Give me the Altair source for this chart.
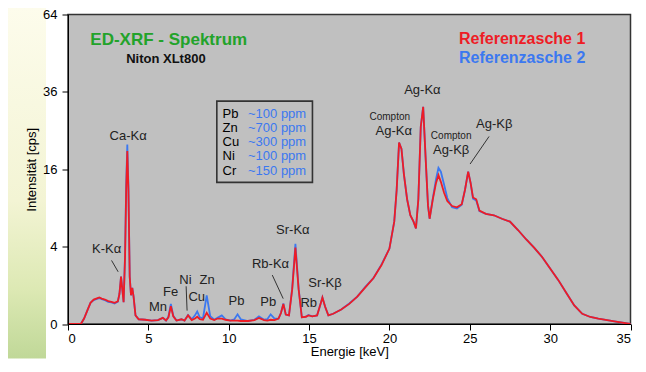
import altair as alt
import pandas as pd

# ---------------- data ----------------
energy = [0, 0.8, 1.0, 1.2, 1.4, 1.6, 1.8, 1.95, 2.1, 2.3, 2.5, 2.7, 2.9, 3.1, 3.2, 3.3,
          3.38, 3.46, 3.55, 3.62, 3.69, 3.76, 3.84, 3.92, 4.0, 4.08, 4.2, 4.4, 4.8, 5.2,
          5.6, 5.9, 6.1, 6.25, 6.4, 6.55, 6.75, 7.06, 7.25, 7.47, 7.7, 7.9, 8.04, 8.2,
          8.4, 8.63, 8.85, 9.1, 9.3, 9.57, 9.8, 10.1, 10.35, 10.55, 10.75, 11.2, 11.6,
          11.88, 12.2, 12.4, 12.61, 12.85, 13.1, 13.25, 13.4, 13.55, 13.75, 13.95, 14.15,
          14.35, 14.55, 14.8, 14.96, 15.2, 15.5, 15.7, 15.83, 16.0, 16.2, 16.5, 17.0, 17.5,
          18.0, 18.5, 19.0, 19.5, 20.0, 20.3, 20.45, 20.6, 20.75, 20.9, 21.1, 21.3, 21.5,
          21.65, 21.8, 21.95, 22.1, 22.25, 22.4, 22.5, 22.7, 22.9, 23.05, 23.2, 23.4, 23.6,
          23.9, 24.2, 24.5, 24.7, 24.9, 25.05, 25.2, 25.4, 25.6, 26.0, 26.5, 27.0, 27.5,
          28.0, 28.5, 29.0, 29.5, 30.0, 30.5, 31.0, 31.5, 32.0, 32.5, 33.0, 34.0, 35.0]

ref1 = [0, 0, 0.02, 0.12, 0.3, 0.4, 0.44, 0.47, 0.43, 0.4, 0.35, 0.33, 0.3, 0.34, 0.6, 1.5,
        0.8, 0.32, 3.0, 12, 20, 12, 1.5, 0.55, 0.87, 0.5, 0.05, 0.015, 0.012, 0.008,
        0.01, 0.025, 0.008, 0.03, 0.21, 0.04, 0.008, 0.015, 0.008, 0.05, 0.01, 0.02, 0.035, 0.015,
        0.012, 0.085, 0.02, 0.01, 0.02, 0.02, 0.012, 0.008, 0.008, 0.008, 0.006, 0.006, 0.01,
        0.025, 0.01, 0.008, 0.012, 0.01, 0.02, 0.08, 0.27, 0.06, 0.05, 0.8, 3.9,
        0.8, 0.03, 0.035, 0.05, 0.04, 0.05, 0.25, 0.47, 0.2, 0.05, 0.07, 0.14, 0.27,
        0.5, 0.9, 1.4, 2.3, 3.8, 7, 12, 22, 20.5, 15, 10.4, 7.9, 7.0,
        6.1, 10.4, 26, 31.5, 18.6, 9.4, 7.4, 10.4, 13.3, 14.8, 13.5, 11.5, 10.1,
        9.3, 9.1, 9.6, 12, 15.5, 13.3, 10.7, 10.4, 8.6, 8.1, 7.9, 7.4, 7.0,
        5.9, 4.8, 3.9, 3.0, 2.05, 1.3, 0.65, 0.23, 0.07, 0.033, 0.02, 0.005, 0]

ref2 = [0, 0, 0.02, 0.12, 0.3, 0.38, 0.42, 0.45, 0.41, 0.38, 0.33, 0.31, 0.28, 0.33, 0.6, 1.5,
        0.8, 0.32, 3.2, 13, 21.5, 12.5, 1.5, 0.55, 0.87, 0.5, 0.05, 0.015, 0.012, 0.008,
        0.01, 0.025, 0.008, 0.035, 0.27, 0.045, 0.008, 0.015, 0.008, 0.055, 0.015, 0.05, 0.105, 0.03,
        0.022, 0.55, 0.04, 0.012, 0.025, 0.05, 0.015, 0.008, 0.015, 0.0625, 0.015, 0.006, 0.012,
        0.04, 0.012, 0.015, 0.0625, 0.02, 0.02, 0.08, 0.28, 0.06, 0.05, 0.85, 4.3,
        0.85, 0.03, 0.035, 0.055, 0.04, 0.05, 0.25, 0.47, 0.2, 0.05, 0.07, 0.14, 0.28,
        0.5, 0.92, 1.4, 2.35, 3.8, 7, 12, 22, 20.5, 15, 10.4, 7.9, 7.0,
        6.1, 10.4, 26, 31.5, 18.6, 9.4, 7.4, 10.6, 14.0, 16.3, 15.5, 13.0, 10.6,
        9.1, 8.9, 9.5, 12, 15.5, 13.3, 10.5, 10.2, 8.5, 8.1, 7.9, 7.4, 7.0,
        5.9, 4.8, 3.9, 3.0, 2.05, 1.3, 0.65, 0.23, 0.07, 0.033, 0.02, 0.005, 0]

# peak labels: text, energy, intensity
peak_text = ["Ca-Kα", "K-Kα", "Mn", "Fe", "Ni", "Cu", "Zn", "Pb", "Pb", "Rb-Kα",
             "Sr-Kα", "Rb", "Sr-Kβ", "Ag-Kα", "Ag-Kα", "Ag-Kβ", "Ag-Kβ"]
peak_e = [3.74, 2.4, 5.6, 6.38, 7.31, 8.01, 8.65, 10.48, 12.46, 12.6,
          13.99, 14.98, 15.99, 20.27, 22.05, 23.84, 26.52]
peak_v = [23.5, 3.73, 0.19, 0.69, 1.3, 0.47, 1.27, 0.36, 0.31, 2.38,
          5.9, 0.29, 1.1, 25.0, 36.5, 20.3, 26.8]

compton_e = [20.02, 23.84]
compton_v = [28.6, 23.6]

# leader lines
lead_e1 = [2.71, 7.35, 12.71, 26.2]
lead_v1 = [2.7, 0.95, 1.6, 23.5]
lead_e2 = [3.12, 7.41, 13.39, 25.02]
lead_v2 = [1.82, 0.12, 0.43, 17.1]

# concentration box
box_elem = ["Pb", "Zn", "Cu", "Ni", "Cr"]
box_ppm = ["~100 ppm", "~700 ppm", "~300 ppm", "~100 ppm", "~150 ppm"]
box_row_v = [29.5, 25.7, 22.2, 18.8, 15.6]
box_e = [9.26, 15.21]
box_v = [33.2, 13.4]

FONT = "Liberation Sans"
RED = "#ee1c25"
BLUE = "#3b78f0"

df = pd.DataFrame({"E": energy, "r1": ref1, "r2": ref2})

xs = alt.Scale(domain=[0, 35], nice=False)
ys = alt.Scale(type="sqrt", domain=[0, 64], nice=False)

xaxis = alt.Axis(values=list(range(0, 36, 5)), title="Energie [keV]", grid=False,
                 tickSize=6, labelFontSize=13, titleFontSize=13, titleFontWeight="normal",
                 labelFont=FONT, titleFont=FONT, labelColor="black", titleColor="black",
                 domainColor="black", tickColor="black", labelPadding=2, titlePadding=0,
                 zindex=1)
yaxis = alt.Axis(values=[0, 1, 4, 9, 16, 25, 36, 49, 64], title="Intensität [cps]", grid=False,
                 labelExpr="(datum.value==0||datum.value==4||datum.value==16||datum.value==36||datum.value==64) ? datum.label : ''",
                 tickSize=6, labelFontSize=13, titleFontSize=13, titleFontWeight="normal",
                 labelFont=FONT, titleFont=FONT, labelColor="black", titleColor="black",
                 domainColor="black", tickColor="black", labelPadding=5, titlePadding=4,
                 zindex=1)

# decorative pale green strip on the left side of the slide
deco = alt.Chart(pd.DataFrame({"k": [0]})).mark_rect(
    color=alt.LinearGradient(
        gradient="linear", x1=0, y1=0, x2=0, y2=1,
        stops=[alt.GradientStop(offset=0, color="#fdfcec"),
               alt.GradientStop(offset=0.55, color="#f3f4d4"),
               alt.GradientStop(offset=0.8, color="#dde9b4"),
               alt.GradientStop(offset=1, color="#c0d898")])
).encode(x=alt.value(-60), x2=alt.value(-22), y=alt.value(-7), y2=alt.value(344))

base = alt.Chart(df)
blue_line = base.mark_line(color=BLUE, strokeWidth=1.8).encode(
    x=alt.X("E:Q", scale=xs, axis=xaxis),
    y=alt.Y("r2:Q", scale=ys, axis=yaxis))
red_line = base.mark_line(color=RED, strokeWidth=1.8).encode(
    x=alt.X("E:Q", scale=xs), y=alt.Y("r1:Q", scale=ys))

peaks = alt.Chart(pd.DataFrame({"t": peak_text, "E": peak_e, "v": peak_v})).mark_text(
    font=FONT, fontSize=13, color="#222222").encode(
    x=alt.X("E:Q", scale=xs), y=alt.Y("v:Q", scale=ys), text="t:N")
compton = alt.Chart(pd.DataFrame({"E": compton_e, "v": compton_v, "t": ["Compton", "Compton"]})).mark_text(
    font=FONT, fontSize=10, color="#222222").encode(
    x=alt.X("E:Q", scale=xs), y=alt.Y("v:Q", scale=ys), text="t:N")
leads = alt.Chart(pd.DataFrame({"e1": lead_e1, "v1": lead_v1, "e2": lead_e2, "v2": lead_v2})).mark_rule(
    color="#333333", strokeWidth=1).encode(
    x=alt.X("e1:Q", scale=xs), y=alt.Y("v1:Q", scale=ys), x2="e2:Q", y2="v2:Q")

box = alt.Chart(pd.DataFrame({"a": [box_e[0]], "b": [box_e[1]], "c": [box_v[0]], "d": [box_v[1]]})).mark_rect(
    fill=None, stroke="#333333", strokeWidth=1.6).encode(
    x=alt.X("a:Q", scale=xs), x2="b:Q", y=alt.Y("c:Q", scale=ys), y2="d:Q")
box_df = pd.DataFrame({"el": box_elem, "ppm": box_ppm, "v": box_row_v,
                       "e1": [9.62] * 5, "e2": [11.2] * 5})
box_el = alt.Chart(box_df).mark_text(font=FONT, fontSize=13, color="black", align="left").encode(
    x=alt.X("e1:Q", scale=xs), y=alt.Y("v:Q", scale=ys), text="el:N")
box_pp = alt.Chart(box_df).mark_text(font=FONT, fontSize=13, color=BLUE, align="left").encode(
    x=alt.X("e2:Q", scale=xs), y=alt.Y("v:Q", scale=ys), text="ppm:N")

titles_df = pd.DataFrame({
    "t": ["ED-XRF - Spektrum", "Niton XLt800", "Referenzasche 1", "Referenzasche 2"],
    "E": [1.39, 3.62, 32.19, 32.19], "v": [53.7, 46.9, 54.4, 47.3]})
t1 = alt.Chart(titles_df.iloc[[0]]).mark_text(font=FONT, fontSize=17, fontWeight="bold",
                                              color="#22a32a", align="left").encode(
    x=alt.X("E:Q", scale=xs), y=alt.Y("v:Q", scale=ys), text="t:N")
t2 = alt.Chart(titles_df.iloc[[1]]).mark_text(font=FONT, fontSize=13, fontWeight="bold",
                                              color="#111111", align="left").encode(
    x=alt.X("E:Q", scale=xs), y=alt.Y("v:Q", scale=ys), text="t:N")
t3 = alt.Chart(titles_df.iloc[[2]]).mark_text(font=FONT, fontSize=16, fontWeight="bold",
                                              color=RED, align="right").encode(
    x=alt.X("E:Q", scale=xs), y=alt.Y("v:Q", scale=ys), text="t:N")
t4 = alt.Chart(titles_df.iloc[[3]]).mark_text(font=FONT, fontSize=16, fontWeight="bold",
                                              color=BLUE, align="right").encode(
    x=alt.X("E:Q", scale=xs), y=alt.Y("v:Q", scale=ys), text="t:N")

chart = alt.layer(deco, blue_line, red_line, peaks, compton, leads, box, box_el, box_pp,
                  t1, t2, t3, t4).properties(
    width=562.5, height=309.5,
    autosize=alt.AutoSizeParams(type="none"),
    padding={"left": 60, "top": 6.5, "right": 7.5, "bottom": 35},
    background="white",
).configure_view(fill="#c0c0c0", stroke="#333333", strokeWidth=1.5)

chart.save("out.html", embed_options={"renderer": "svg", "actions": False})
